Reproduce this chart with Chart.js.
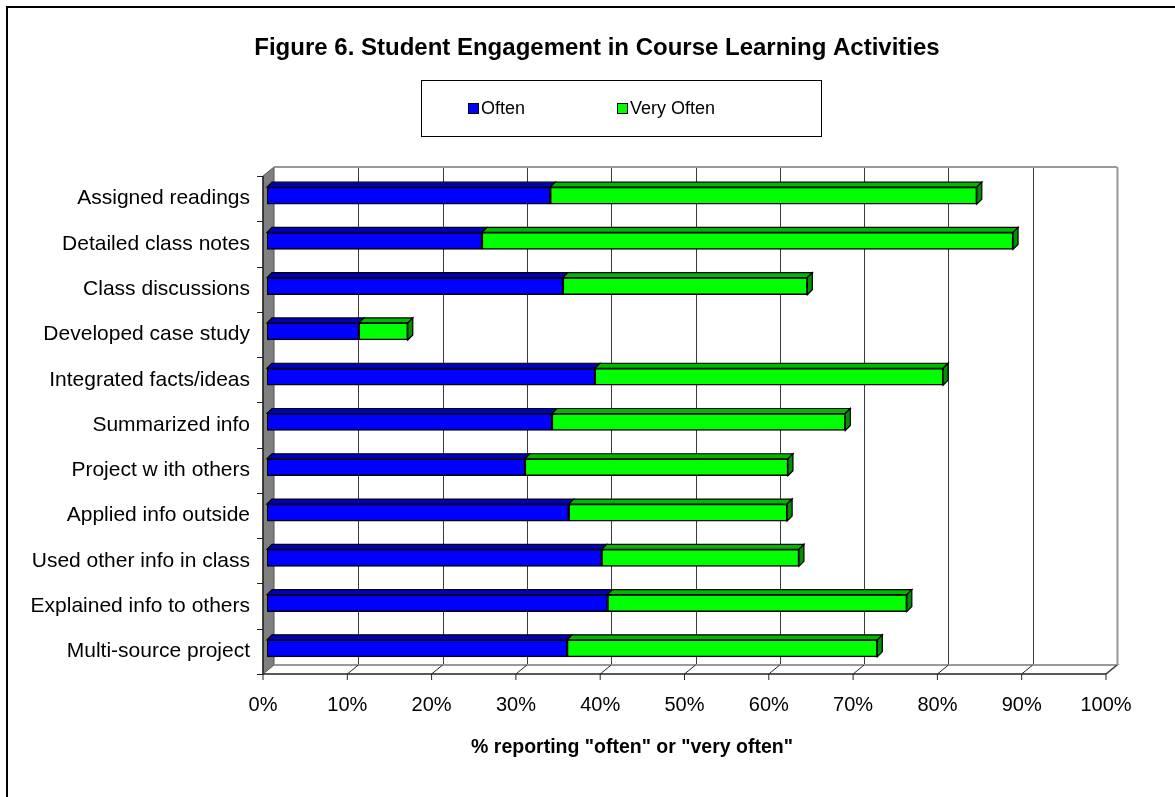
<!DOCTYPE html>
<html>
<head>
<meta charset="utf-8">
<script src="https://cdn.jsdelivr.net/npm/chart.js@4.4.1/dist/chart.umd.min.js"></script>
<style>
  html, body { margin: 0; padding: 0; background: #fff; overflow: hidden; }
  #wrap { width: 1175px; height: 797px; position: relative; }
</style>
</head>
<body>
<div id="wrap"><canvas id="engagementChart" width="1175" height="797"></canvas></div>
<script>
// данные с рисунка
const categories = [
    'Assigned readings',
    'Detailed class notes',
    'Class discussions',
    'Developed case study',
    'Integrated facts/ideas',
    'Summarized info',
    'Project w ith others',
    'Applied info outside',
    'Used other info in class',
    'Explained info to others',
    'Multi-source project'
];
const oftenValues     = [33.6, 25.5, 35.1, 10.9, 38.9, 33.8, 30.6, 35.8, 39.7, 40.4, 35.6];
const veryOftenValues = [50.6, 63.0, 29.0,  5.8, 41.3, 34.8, 31.2, 25.9, 23.4, 35.5, 36.8];
const xTicks = [0, 10, 20, 30, 40, 50, 60, 70, 80, 90, 100];

const chartTitle = 'Figure 6. Student Engagement in Course Learning Activities';
const axisTitle = '% reporting "often" or "very often"';

const FONT = '"Liberation Sans", Arial, sans-serif';

// смещения "3D" рамки относительно области графика
const FRONT = { dx: -4, dy: 3 };
const BACK = { dx: 7, dy: -6 };
const BAR_DEPTH = { dx: 5, dy: 5 };

const sideColors = ['#0000A8', '#009000'];
const topColors = ['#0000C0', '#00B800'];

const framePlugin = {
    id: 'frame3d',
    beforeDraw(chart) {
        const c = chart.ctx;
        c.save();
        c.fillStyle = '#fff';
        c.fillRect(0, 0, chart.width, chart.height);
        c.restore();
    },
    beforeDatasetsDraw(chart) {
        const c = chart.ctx;
        const a = chart.chartArea;
        const x = chart.scales.x;
        const fl = a.left + FRONT.dx, fr = a.right + FRONT.dx;
        const ft = a.top + FRONT.dy, fb = a.bottom + FRONT.dy;
        const bl = a.left + BACK.dx, br = a.right + BACK.dx;
        const bt = a.top + BACK.dy, bb = a.bottom + BACK.dy;
        c.save();

        // левая стенка
        c.beginPath();
        c.moveTo(fl, ft);
        c.lineTo(bl, bt);
        c.lineTo(bl, bb);
        c.lineTo(fl, fb);
        c.closePath();
        c.fillStyle = '#808080';
        c.fill();
        c.lineWidth = 1;
        c.strokeStyle = '#555';
        c.stroke();

        // линии сетки на задней стенке
        xTicks.forEach(v => {
            if (v === 0) return;
            const px = Math.round(x.getPixelForValue(v) + BACK.dx) + 0.5;
            c.beginPath();
            c.moveTo(px, bt);
            c.lineTo(px, bb);
            c.strokeStyle = v === 100 ? '#999' : '#3a3a3a';
            c.lineWidth = v === 100 ? 2 : 1;
            c.stroke();
        });

        // верх задней стенки
        c.strokeStyle = '#999';
        c.lineWidth = 2;
        c.beginPath();
        c.moveTo(bl, bt);
        c.lineTo(br, bt);
        c.stroke();

        // пол
        c.beginPath();
        c.moveTo(bl, bb);
        c.lineTo(br, bb);
        c.lineTo(fr, fb);
        c.stroke();

        c.strokeStyle = '#222';
        c.lineWidth = 1;
        xTicks.forEach(v => {
            const fx = x.getPixelForValue(v) + FRONT.dx;
            const bx = x.getPixelForValue(v) + BACK.dx;
            c.beginPath();
            c.moveTo(fx, fb + 6);
            c.lineTo(fx, fb);
            if (v > 0) c.lineTo(bx, bb);
            c.stroke();
        });
        c.lineWidth = 1.5;
        c.beginPath();
        c.moveTo(fl, fb);
        c.lineTo(fr, fb);
        c.stroke();

        // передний край стенки и засечки категорий
        c.beginPath();
        c.moveTo(fl, ft);
        c.lineTo(fl, fb);
        c.stroke();
        c.lineWidth = 1;
        const step = (fb - ft) / categories.length;
        for (let i = 0; i <= categories.length; i++) {
            const ty = Math.round(ft + step * i) + 0.5;
            c.beginPath();
            c.moveTo(fl - 6, ty);
            c.lineTo(fl, ty);
            c.stroke();
        }
        c.restore();
    },
    afterDatasetsDraw(chart) {
        const c = chart.ctx;
        const dx = BAR_DEPTH.dx, dy = BAR_DEPTH.dy;
        c.save();
        c.lineWidth = 1.2;
        c.strokeStyle = '#000';
        chart.data.datasets.forEach((ds, di) => {
            const meta = chart.getDatasetMeta(di);
            meta.data.forEach(el => {
                const p = el.getProps(['x', 'y', 'base', 'height'], true);
                const x0 = Math.min(p.base, p.x), x1 = Math.max(p.base, p.x);
                const yt = p.y - p.height / 2, yb = p.y + p.height / 2;
                // верхняя грань
                c.beginPath();
                c.moveTo(x0, yt);
                c.lineTo(x0 + dx, yt - dy);
                c.lineTo(x1 + dx, yt - dy);
                c.lineTo(x1, yt);
                c.closePath();
                c.fillStyle = topColors[di];
                c.fill();
                c.stroke();
                // боковая грань только у последнего сегмента
                if (di === chart.data.datasets.length - 1) {
                    c.beginPath();
                    c.moveTo(x1, yt);
                    c.lineTo(x1 + dx, yt - dy);
                    c.lineTo(x1 + dx, yb - dy);
                    c.lineTo(x1, yb);
                    c.closePath();
                    c.fillStyle = sideColors[di];
                    c.fill();
                    c.stroke();
                }
            });
        });
        c.restore();
    },
    afterDraw(chart) {
        const c = chart.ctx;
        c.save();
        // внешняя рамка
        c.strokeStyle = '#000';
        c.lineWidth = 2;
        c.beginPath();
        c.moveTo(7, chart.height + 5);
        c.lineTo(7, 7);
        c.lineTo(chart.width + 5, 7);
        c.stroke();

        // заголовок
        c.fillStyle = '#000';
        c.textAlign = 'center';
        c.textBaseline = 'middle';
        c.font = 'bold 24px ' + FONT;
        c.fillText(chartTitle, 597, 48);

        // легенда
        c.lineWidth = 1;
        c.strokeRect(421.5, 80.5, 400, 56);
        c.font = '18px ' + FONT;
        c.textAlign = 'left';
        const legendX = [468, 617];
        chart.data.datasets.forEach((ds, i) => {
            c.fillStyle = ds.backgroundColor;
            c.fillRect(legendX[i], 103, 10, 10);
            c.strokeStyle = '#000';
            c.strokeRect(legendX[i] + 0.5, 103.5, 10, 10);
            c.fillStyle = '#000';
            c.fillText(ds.label, legendX[i] + 13, 109);
        });

        // подпись оси X
        c.textAlign = 'center';
        c.font = 'bold 19.5px ' + FONT;
        c.fillText(axisTitle, 632, 748);
        c.restore();
    }
};

function createChart() {
    const ctx = document.getElementById('engagementChart').getContext('2d');
    return new Chart(ctx, {
        type: 'bar',
        data: {
            labels: categories,
            datasets: [
                {
                    label: 'Often',
                    data: oftenValues,
                    backgroundColor: '#0000FF',
                    borderColor: '#000000',
                    borderWidth: 1.5,
                    borderSkipped: false,
                    barThickness: 17
                },
                {
                    label: 'Very Often',
                    data: veryOftenValues,
                    backgroundColor: '#00FF00',
                    borderColor: '#000000',
                    borderWidth: 1.5,
                    borderSkipped: false,
                    barThickness: 17
                }
            ]
        },
        options: {
            indexAxis: 'y',
            responsive: false,
            animation: false,
            layout: {
                padding: { top: 173, right: 65, left: 0, bottom: 0 }
            },
            scales: {
                x: {
                    stacked: true,
                    min: 0,
                    max: 100,
                    grid: { display: false, drawTicks: false },
                    border: { display: false },
                    afterFit(scale) { scale.height = 126; },
                    ticks: {
                        stepSize: 10,
                        padding: 22,
                        labelOffset: -4,
                        color: '#000',
                        font: { family: FONT, size: 20 },
                        callback: v => v + '%'
                    }
                },
                y: {
                    stacked: true,
                    grid: { display: false, drawTicks: false },
                    border: { display: false },
                    afterFit(scale) { scale.width = 267; },
                    ticks: {
                        padding: 17,
                        labelOffset: 3,
                        color: '#000',
                        font: { family: FONT, size: 21 }
                    }
                }
            },
            plugins: {
                legend: { display: false },
                title: { display: false },
                tooltip: { enabled: false }
            }
        },
        plugins: [framePlugin]
    });
}

document.addEventListener('DOMContentLoaded', createChart);
</script>
</body>
</html>
